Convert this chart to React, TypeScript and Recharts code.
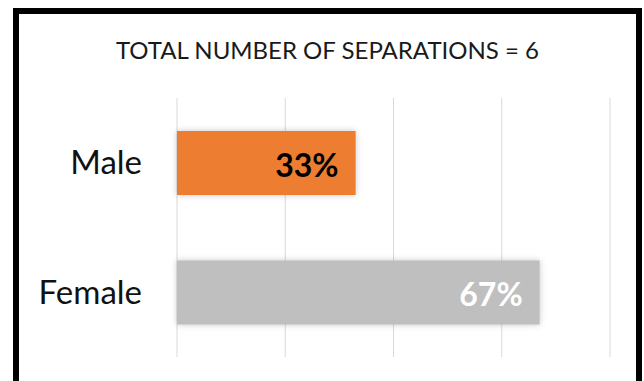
import { Bar, BarChart, CartesianGrid, Cell, LabelList, XAxis, YAxis } from "recharts"

const CATEGORIES = ["Male", "Female"]
const SHARES = [33, 67]
const BAR_COLORS = ["#ED7D31", "#BFBFBF"]
const LABEL_COLORS = ["#000000", "#FFFFFF"]
const X_TICKS = [0, 20, 40, 60, 80]
const TITLE = "TOTAL NUMBER OF SEPARATIONS = 6"

const FONT = "Lato, 'Open Sans', sans-serif"

const data = CATEGORIES.map((name, i) => ({ name, share: SHARES[i] }))

function ShadowBar(props: any) {
  const { x, y, width, height, fill } = props
  return (
    <rect
      x={x}
      y={y}
      width={width}
      height={height}
      fill={fill}
      style={{ filter: "drop-shadow(0px 0px 3px rgba(0,0,0,0.22))" }}
    />
  )
}

function ValueLabel(props: any) {
  const { x, y, width, height, value, index } = props
  return (
    <text
      x={x + width - 17}
      y={y + height / 2 + 1}
      textAnchor="end"
      dominantBaseline="central"
      fill={LABEL_COLORS[index]}
      fontFamily={FONT}
      fontWeight={700}
      fontSize={32}
    >
      {`${value}%`}
    </text>
  )
}

export default function App() {
  return (
    <div style={{ position: "absolute", left: 0, top: 0, width: 644, height: 381, background: "#fff", overflow: "hidden" }}>
      <div
        style={{
          position: "absolute",
          left: 13,
          top: 8,
          width: 617,
          height: 400,
          border: "6px solid #000",
          borderBottom: "none",
        }}
      />
      <div
        style={{
          position: "absolute",
          left: 0,
          width: 655,
          top: 35,
          textAlign: "center",
          fontFamily: FONT,
          fontSize: 24,
          lineHeight: "30px",
          color: "#1a1a1a",
        }}
      >
        {TITLE}
      </div>
      <div style={{ position: "absolute", left: 0, top: 0 }}>
        <BarChart
          width={644}
          height={381}
          data={data}
          layout="vertical"
          margin={{ top: 98, right: 34, bottom: 24, left: 0 }}
          barSize={64}
        >
          <CartesianGrid horizontal={false} stroke="#D9D9D9" />
          <XAxis type="number" domain={[0, 80]} ticks={X_TICKS} hide />
          <YAxis
            type="category"
            dataKey="name"
            width={177}
            axisLine={false}
            tickLine={false}
            tickSize={0}
            tickMargin={35}
            tick={{ fill: "#111", fontSize: 33, fontFamily: FONT }}
          />
          <Bar dataKey="share" isAnimationActive={false} shape={ShadowBar}>
            {data.map((d, i) => (
              <Cell key={d.name} fill={BAR_COLORS[i]} />
            ))}
            <LabelList dataKey="share" content={ValueLabel} />
          </Bar>
        </BarChart>
      </div>
    </div>
  )
}
